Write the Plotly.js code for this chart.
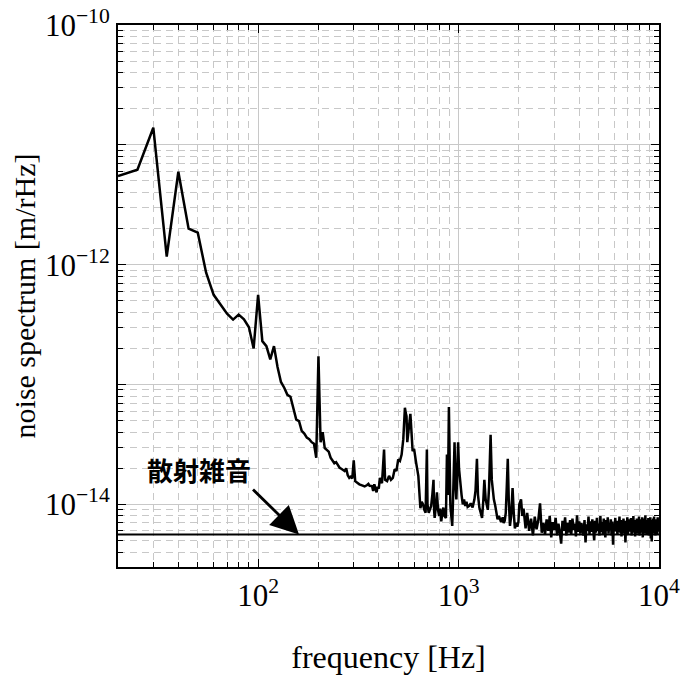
<!DOCTYPE html>
<html>
<head>
<meta charset="utf-8">
<script src="https://cdn.plot.ly/plotly-3.0.1.min.js"></script>
<style>html,body{margin:0;padding:0;background:#fff;}#plot{width:683px;height:681px;}</style>
</head>
<body>
<div id="plot"></div>
<script>
// Low/mid-frequency part of the spectrum (Hz, m/rHz)
const freqLow = [20,25,30,35,40,45,50,55,60,65,70,75,80,85,90,95,100,105,110,115,120,125,130,135,140,145,150,155,160,165,170,175,180,185,190,195,200,205,210,215,220,225,230,235,240,245,250,255,260,265,270,275,280,285,290,295,300,305,310,320,330,340,350,355,360,370,375,380,390,395,400,405,415,425,430,440,450,460,470,480,490,500,510,520,530,540,545,550,555,565,575,580,590,600,605,615,630,640,645,655,665,675,685,695,700,710,720,730,740,750,755,760,770,780,790,800,810,820,830,840,850,865,875,885,895,900,910,920,930,940,955,965,975,985,995,1005,1020,1035,1050,1065,1080,1095,1110,1130,1150,1175,1200,1215,1235,1250,1270,1290,1310,1330,1345,1365,1385,1400,1420,1445,1465,1480,1500,1525,1545,1565,1590,1610,1630,1660,1680,1700,1720,1740,1760,1780,1805,1830,1860,1885,1910,1940,1965,1990,2010,2050,2080,2110,2140,2160];
const noiseLow = [5.5e-12,6.2e-12,1.39e-11,1.17e-12,5.96e-12,2.0e-12,1.85e-12,8.6e-13,5.6e-13,4.6e-13,3.9e-13,3.48e-13,3.83e-13,3.5e-13,3.0e-13,2.0e-13,5.6e-13,2.3e-13,2.09e-13,1.62e-13,2.09e-13,1.4e-13,1.05e-13,9.4e-14,8.2e-14,7.9e-14,6.2e-14,5.1e-14,4.95e-14,4.1e-14,3.9e-14,3.6e-14,3.5e-14,3.3e-14,3.2e-14,2.45e-14,1.72e-13,3.3e-14,4.0e-14,2.95e-14,2.85e-14,2.75e-14,2.45e-14,2.3e-14,2.2e-14,2.25e-14,2.1e-14,2.02e-14,1.98e-14,1.93e-14,1.9e-14,2.0e-14,1.75e-14,1.66e-14,1.7e-14,1.65e-14,2.33e-14,1.56e-14,1.52e-14,1.47e-14,1.44e-14,1.41e-14,1.45e-14,1.48e-14,1.43e-14,1.42e-14,1.29e-14,1.47e-14,1.26e-14,1.4e-14,1.35e-14,1.66e-14,1.5e-14,2.87e-14,1.6e-14,1.56e-14,1.73e-14,1.6e-14,1.66e-14,1.96e-14,1.9e-14,2.37e-14,2.3e-14,2.6e-14,3.5e-14,6.4e-14,5.8e-14,5.45e-14,3.3e-14,4.5e-14,5.7e-14,4.5e-14,2.78e-14,2.9e-14,2.6e-14,2.2e-14,1.73e-14,1.2e-14,9.3e-15,1.05e-14,1.0e-14,9.0e-15,8.5e-15,2.87e-14,1.0e-14,8.5e-15,9.0e-15,9.7e-15,1.2e-14,1.6e-14,9.0e-15,7.7e-15,9.5e-15,1.26e-14,9.0e-15,8.0e-15,9.2e-15,7.2e-15,8.5e-15,9.4e-15,8.0e-15,7.7e-15,2.6e-14,1.2e-14,6.5e-14,2.0e-14,1.0e-14,8.0e-15,6.6e-15,1.2e-14,3.3e-14,1.5e-14,1.1e-14,1.8e-14,3.3e-14,2.0e-14,1.42e-14,1.2e-14,1.0e-14,1.1e-14,9.7e-15,1.05e-14,9.5e-15,9.7e-15,1.02e-14,9.4e-15,1.1e-14,1.3e-14,2.4e-14,1.2e-14,9.4e-15,8.5e-15,7.7e-15,1.1e-14,1.6e-14,1.1e-14,9.4e-15,9.0e-15,1.4e-14,3.8e-14,1.6e-14,1.26e-14,1.1e-14,9.7e-15,8.5e-15,7.5e-15,8.0e-15,7.3e-15,7.1e-15,7.8e-15,7.0e-15,7.3e-15,8.5e-15,1.4e-14,2.4e-14,1.1e-14,6.6e-15,8.0e-15,1.37e-14,8.5e-15,6.3e-15,7.0e-15,6.5e-15,7.2e-15,1.0e-14,1.1e-14,8.0e-15,9.2e-15,6.5e-15,6.3e-15];

// High-frequency part (Hz) and its noise floor in units of 1e-15 m/rHz
const freqHigh = [2200,2250,2300,2350,2400,2450,2500,2550,2600,2650,2700,2750,2800,2850,2900,2950,3000,3050,3100,3150,3200,3250,3300,3350,3400,3450,3500,3550,3600,3650,3700,3750,3800,3850,3900,3950,4000,4050,4100,4150,4200,4250,4300,4350,4400,4450,4500,4550,4600,4650,4700,4750,4800,4850,4900,4950,5000,5050,5100,5150,5200,5250,5300,5350,5400,5450,5500,5550,5600,5650,5700,5750,5800,5850,5900,5950,6000,6050,6100,6150,6200,6250,6300,6350,6400,6450,6500,6550,6600,6650,6700,6750,6800,6850,6900,6950,7000,7050,7100,7150,7200,7250,7300,7350,7400,7450,7500,7550,7600,7650,7700,7750,7800,7850,7900,7950,8000,8050,8100,8150,8200,8250,8300,8350,8400,8450,8500,8550,8600,8650,8700,8750,8800,8850,8900,8950,9000,9050,9100,9150,9200,9250,9300,9350,9400,9450,9500,9550,9600,9650,9700,9750,9800,9850,9900,9950,10000];
const noiseHighFemto = [8.5,6.0,7.6,5.5,7.9,6.2,7.4,10.2,5.8,7.0,
5.6,7.5,6.0,8.0,5.3,7.1,6.1,7.7,5.5,6.9,
5.9,4.7,7.3,6.0,7.8,5.5,7.0,5.8,7.4,5.6,
7.6,6.1,6.9,5.4,8.1,5.9,7.2,5.7,7.0,6.2,
5.5,7.4,4.8,6.8,6.0,7.9,5.6,7.2,5.9,7.5,
6.1,5.0,7.3,5.8,7.7,6.0,6.9,5.5,8.0,5.9,
7.1,5.6,7.6,6.2,5.3,7.4,6.0,7.8,5.7,7.0,
6.1,7.5,5.5,7.2,4.6,6.9,5.9,7.7,6.0,7.3,
5.6,7.0,6.2,7.9,5.8,7.4,5.4,7.1,6.0,7.6,
5.7,7.3,4.8,7.0,6.1,7.8,5.6,7.2,5.9,7.5,
6.0,7.7,5.5,7.1,6.2,8.0,5.8,7.4,5.4,7.2,
6.1,7.6,5.7,7.3,5.9,7.9,5.5,7.0,6.2,7.5,
5.8,7.8,5.3,7.2,6.0,7.6,5.7,8.1,5.9,7.3,
5.6,7.4,6.1,7.7,5.5,7.0,6.0,7.8,5.2,7.4,
4.9,7.1,5.8,7.6,6.0,7.9,5.7,7.3,5.5,7.5,
6.1,7.2,5.6,7.8,5.9,7.0,6.3];

// Shot-noise level and the frequency span it is drawn over
const shotNoiseLevel = 5.6e-15;
const shotNoiseFreq = [20, 10000];
const shotLabel = '散射雑音';
const shotArrowFreq = 160;

// Axis tick values / labels
const xTickVals = [100, 1000, 10000];
const xTickText = ['10<sup>2</sup>', '10<sup>3</sup>', '10<sup>4</sup>'];
const yTickVals = [1e-10, 1e-11, 1e-12, 1e-13, 1e-14];
const yTickText = ['10<sup>\u221210</sup>', '', '10<sup>\u221212</sup>', '', '10<sup>\u221214</sup>'];

const freq = freqLow.concat(freqHigh);
const noise = noiseLow.concat(noiseHighFemto.map(v => v * 1e-15));

const serif = 'Liberation Serif, Times New Roman, serif';
const gridCol = '#c8c8c8';

const traces = [
  {x: freq, y: noise, type: 'scatter', mode: 'lines',
   line: {color: '#000', width: 2.5}, hoverinfo: 'skip', showlegend: false},
  {x: shotNoiseFreq, y: [shotNoiseLevel, shotNoiseLevel], type: 'scatter', mode: 'lines',
   line: {color: '#000', width: 2.2}, hoverinfo: 'skip', showlegend: false}
];

const axisCommon = {
  type: 'log', showline: true, linecolor: '#000', linewidth: 2, mirror: 'allticks',
  ticks: 'inside', ticklen: 8, tickwidth: 1, tickcolor: '#000',
  showgrid: true, gridcolor: gridCol, gridwidth: 1, zeroline: false,
  tickfont: {family: serif, size: 31, color: '#000'},
  minor: {dtick: 'D1', ticks: 'inside', ticklen: 5, tickwidth: 1, tickcolor: '#000',
          showgrid: true, gridcolor: gridCol, gridwidth: 1, griddash: '7px,5px'}
};

const layout = {
  width: 683, height: 681,
  margin: {l: 118, r: 24, t: 25, b: 114},
  paper_bgcolor: '#fff', plot_bgcolor: '#fff',
  showlegend: false,
  xaxis: Object.assign({}, axisCommon, {
    range: [Math.log10(20), 4],
    tickmode: 'array', tickvals: xTickVals, ticktext: xTickText,
    title: {text: 'frequency [Hz]', font: {family: serif, size: 32, color: '#000'}, standoff: 33}
  }),
  yaxis: Object.assign({}, axisCommon, {
    range: [Math.log10(3e-15), -10],
    tickmode: 'array', tickvals: yTickVals, ticktext: yTickText,
    title: {text: 'noise spectrum [m/rHz]', font: {family: serif, size: 30, color: '#000'}, standoff: 0}
  }),
  annotations: [{
    x: Math.log10(shotArrowFreq), y: Math.log10(shotNoiseLevel), xref: 'x', yref: 'y',
    text: shotLabel, showarrow: true, ax: -46, ay: -45,
    xanchor: 'right', yanchor: 'bottom',
    arrowhead: 2, arrowsize: 2.0, arrowwidth: 2.8, arrowcolor: '#000',
    font: {family: 'Noto Sans CJK JP', size: 26, color: '#000', weight: 'bold'}
  }]
};

Plotly.newPlot('plot', traces, layout, {displayModeBar: false, staticPlot: true});
</script>
</body>
</html>
